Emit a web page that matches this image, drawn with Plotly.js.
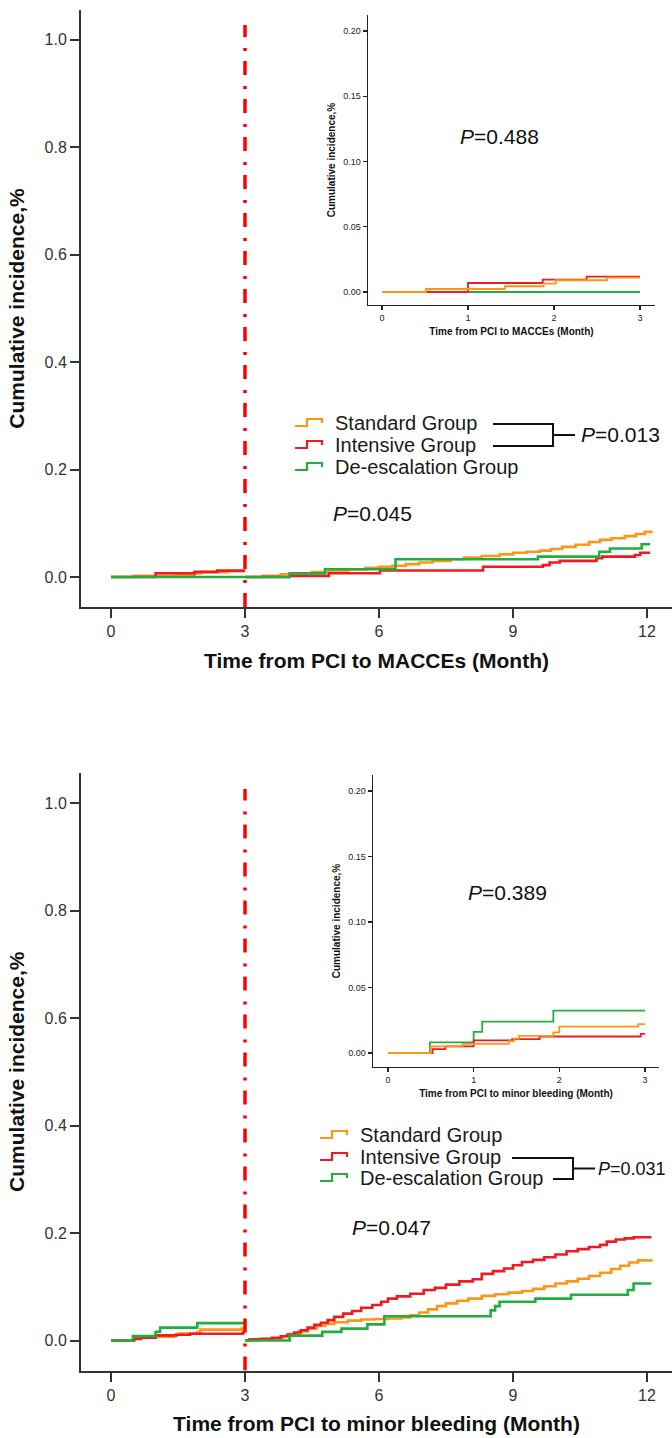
<!DOCTYPE html>
<html><head><meta charset="utf-8">
<script src="https://cdn.plot.ly/plotly-3.0.1.min.js"></script>
<style>html,body{margin:0;padding:0;background:#fff}</style>
</head><body><div id="chart" style="width:672px;height:1438px"></div>
<script>
// ---------- DATA ----------
const groupNames = ['Standard Group', 'Intensive Group', 'De-escalation Group'];
const mainXTicks = [0, 3, 6, 9, 12];
const mainYTicks = [0, 0.2, 0.4, 0.6, 0.8, 1.0];
const insetXTicks = [0, 1, 2, 3];
const insetYTicks = [0, 0.05, 0.10, 0.15, 0.20];
const landmarkMonth = 3;

// Panel A: MACCEs, 0-3 months
const macceStdPreX = [0, 0.51, 1.43, 1.88, 2.02, 2.62, 3.0];
const macceStdPreY = [0, 0.0023, 0.0044, 0.0064, 0.009, 0.011, 0.011];
const macceIntPreX = [0, 1.0, 1.87, 2.38, 3.0];
const macceIntPreY = [0, 0.0069, 0.0095, 0.0118, 0.0118];
const macceDePreX = [0, 3.0];
const macceDePreY = [0, 0];
// Panel A: MACCEs, 3-12 months
const macceStdPostX = [3.0, 3.4, 3.8, 4.1, 4.5, 4.9, 5.3, 5.7, 6.0, 6.3, 6.6, 6.9, 7.2, 7.6, 7.9, 8.3, 8.7, 9.0, 9.3, 9.6, 9.85, 10.1, 10.4, 10.7, 10.95, 11.2, 11.5, 11.75, 11.95, 12.1];
const macceStdPostY = [0, 0.002, 0.005, 0.007, 0.009, 0.012, 0.014, 0.017, 0.019, 0.021, 0.024, 0.027, 0.030, 0.033, 0.036, 0.039, 0.042, 0.045, 0.047, 0.049, 0.052, 0.056, 0.060, 0.065, 0.069, 0.072, 0.076, 0.080, 0.084, 0.086];
const macceIntPostX = [3.0, 4.0, 4.88, 6.02, 8.33, 9.67, 9.82, 10.05, 10.87, 11.0, 11.73, 11.85, 12.07];
const macceIntPostY = [0, 0.002, 0.007, 0.012, 0.019, 0.022, 0.027, 0.030, 0.035, 0.038, 0.041, 0.045, 0.045];
const macceDePostX = [3.0, 4.0, 4.79, 6.37, 9.56, 10.93, 11.17, 11.88, 12.07];
const macceDePostY = [0, 0.0068, 0.0143, 0.033, 0.038, 0.047, 0.053, 0.061, 0.061];

// Panel B: minor bleeding, 0-3 months
const bleedStdPreX = [0, 0.5, 0.87, 1.41, 1.47, 1.53, 1.93, 2.0, 2.92, 3.0];
const bleedStdPreY = [0, 0.005, 0.007, 0.0091, 0.0109, 0.0131, 0.0157, 0.0202, 0.022, 0.022];
const bleedIntPreX = [0, 0.52, 0.67, 1.0, 1.45, 1.77, 2.95, 3.0];
const bleedIntPreY = [0, 0.003, 0.005, 0.0096, 0.0106, 0.0126, 0.0146, 0.0146];
const bleedDePreX = [0, 0.49, 1.0, 1.1, 1.93, 3.0];
const bleedDePreY = [0, 0.0081, 0.0162, 0.024, 0.0323, 0.0323];
// Panel B: minor bleeding, 3-12 months
const bleedStdPostX = [3.0, 3.3, 3.6, 3.85, 4.0, 4.2, 4.4, 4.6, 4.8, 5.0, 5.3, 5.6, 5.9, 6.2, 6.5, 6.7, 6.9, 7.1, 7.3, 7.5, 7.75, 8.0, 8.3, 8.6, 8.9, 9.2, 9.45, 9.7, 9.95, 10.2, 10.45, 10.7, 10.95, 11.2, 11.4, 11.6, 11.8, 12.1];
const bleedStdPostY = [0, 0.002, 0.004, 0.008, 0.012, 0.017, 0.022, 0.027, 0.031, 0.034, 0.037, 0.039, 0.040, 0.041, 0.043, 0.047, 0.052, 0.058, 0.064, 0.069, 0.074, 0.078, 0.083, 0.086, 0.089, 0.092, 0.096, 0.101, 0.106, 0.110, 0.115, 0.120, 0.126, 0.133, 0.139, 0.145, 0.149, 0.151];
const bleedIntPostX = [3.0, 3.1, 3.35, 3.6, 3.8, 3.95, 4.1, 4.25, 4.4, 4.55, 4.7, 4.85, 5.0, 5.2, 5.4, 5.6, 5.85, 6.05, 6.2, 6.4, 6.7, 7.0, 7.25, 7.5, 7.8, 8.1, 8.3, 8.55, 8.8, 9.0, 9.2, 9.45, 9.7, 9.95, 10.2, 10.45, 10.7, 10.95, 11.1, 11.3, 11.5, 11.7, 12.1];
const bleedIntPostY = [0, 0.002, 0.003, 0.005, 0.008, 0.011, 0.015, 0.019, 0.024, 0.029, 0.033, 0.038, 0.044, 0.050, 0.055, 0.061, 0.066, 0.072, 0.078, 0.082, 0.087, 0.094, 0.098, 0.104, 0.110, 0.114, 0.124, 0.129, 0.134, 0.140, 0.146, 0.150, 0.155, 0.160, 0.166, 0.170, 0.174, 0.178, 0.184, 0.188, 0.190, 0.192, 0.192];
const bleedDePostX = [3.0, 4.0, 4.73, 5.16, 5.74, 6.12, 8.5, 8.6, 8.7, 9.5, 10.3, 11.57, 11.7, 12.1];
const bleedDePostY = [0, 0.009, 0.016, 0.022, 0.030, 0.045, 0.056, 0.064, 0.072, 0.078, 0.085, 0.094, 0.106, 0.106];

const pOverall = ['<i>P</i>=0.045', '<i>P</i>=0.047'];
const pInset = ['<i>P</i>=0.488', '<i>P</i>=0.389'];
const pPair = ['<i>P</i>=0.013', '<i>P</i>=0.031'];
const xTitles = ['Time from PCI to MACCEs (Month)', 'Time from PCI to minor bleeding (Month)'];
const yTitle = 'Cumulative incidence,%';

// ---------- STYLE ----------
const COLORS = ['#FF9514', '#F01A22', '#22AE3E'];
const FONT = 'Liberation Sans, Arial, sans-serif';
const W = 672, H = 1438;
const px = v => v / W;
const py = v => 1 - v / H;

const panels = [
  {pre: [[macceStdPreX, macceStdPreY], [macceIntPreX, macceIntPreY], [macceDePreX, macceDePreY]],
   post: [[macceStdPostX, macceStdPostY], [macceIntPostX, macceIntPostY], [macceDePostX, macceDePostY]],
   main: {x: 'x', y: 'y'}, inset: {x: 'x2', y: 'y2'}},
  {pre: [[bleedStdPreX, bleedStdPreY], [bleedIntPreX, bleedIntPreY], [bleedDePreX, bleedDePreY]],
   post: [[bleedStdPostX, bleedStdPostY], [bleedIntPostX, bleedIntPostY], [bleedDePostX, bleedDePostY]],
   main: {x: 'x3', y: 'y3'}, inset: {x: 'x4', y: 'y4'}}
];

const traces = [];
panels.forEach((p, pi) => {
  for (let g = 0; g < 3; g++) {
    const [preX, preY] = p.pre[g];
    const [postX, postY] = p.post[g];
    traces.push({
      type: 'scatter', mode: 'lines', name: groupNames[g], showlegend: false,
      x: preX.concat([null], postX), y: preY.concat([null], postY),
      line: {shape: 'hv', color: COLORS[g], width: 2.6},
      xaxis: p.main.x, yaxis: p.main.y, connectgaps: false, hoverinfo: 'skip'
    });
  }
  for (let g = 2; g >= 0; g--) {
    const [preX, preY] = p.pre[g];
    traces.push({
      type: 'scatter', mode: 'lines', name: groupNames[g], showlegend: false,
      x: preX, y: preY,
      line: {shape: 'hv', color: COLORS[g], width: 1.8},
      xaxis: p.inset.x, yaxis: p.inset.y, hoverinfo: 'skip'
    });
  }
});

function mainX(domainPx, title) {
  return {
    domain: [px(domainPx[0]), px(domainPx[1])], range: [-0.6716, 12.56],
    tickvals: mainXTicks, ticks: 'outside', ticklen: 9, tickwidth: 2, tickcolor: '#333',
    showline: true, linewidth: 2, linecolor: '#333', showgrid: false, zeroline: false,
    tickfont: {family: FONT, size: 16, color: '#333'},
    title: {text: '<b>' + title + '</b>', font: {family: FONT, size: 21, color: '#111'}, standoff: 14},
    fixedrange: true
  };
}
function mainY(top, bottom, zeroPx) {
  const per = 537.5;
  return {
    domain: [py(bottom), py(top)], range: [-(bottom - zeroPx) / per, (zeroPx - top) / per],
    tickvals: mainYTicks, tickformat: '.1f', ticks: 'outside', ticklen: 9, tickwidth: 2, tickcolor: '#333',
    showline: true, linewidth: 2, linecolor: '#333', showgrid: false, zeroline: false,
    tickfont: {family: FONT, size: 16, color: '#333'},
    title: {text: '<b>' + yTitle + '</b>', font: {family: FONT, size: 21, color: '#111'}, standoff: 14},
    fixedrange: true
  };
}
function insetX(left, right, zeroPx, threePx, title) {
  const per = (threePx - zeroPx) / 3;
  return {
    domain: [px(left), px(right)], range: [(left - zeroPx) / per, (right - zeroPx) / per],
    tickvals: insetXTicks, ticks: 'outside', ticklen: 4, tickwidth: 1.2, tickcolor: '#222',
    showline: true, linewidth: 1.3, linecolor: '#222', showgrid: false, zeroline: false,
    tickfont: {family: FONT, size: 9, color: '#222'},
    title: {text: '<b>' + title + '</b>', font: {family: FONT, size: 10, color: '#111'}, standoff: 6},
    fixedrange: true
  };
}
function insetY(top, bottom, zeroPx, p20Px) {
  const per = (zeroPx - p20Px) / 0.2;
  return {
    domain: [py(bottom), py(top)], range: [-(bottom - zeroPx) / per, (zeroPx - top) / per],
    tickvals: insetYTicks, tickformat: '.2f', ticks: 'outside', ticklen: 4, tickwidth: 1.2, tickcolor: '#222',
    showline: true, linewidth: 1.3, linecolor: '#222', showgrid: false, zeroline: false,
    tickfont: {family: FONT, size: 9, color: '#222'},
    title: {text: '<b>' + yTitle + '</b>', font: {family: FONT, size: 10, color: '#111'}, standoff: 6},
    fixedrange: true
  };
}

const layout = {
  width: W, height: H, margin: {l: 0, r: 0, t: 0, b: 0},
  paper_bgcolor: '#fff', plot_bgcolor: 'rgba(0,0,0,0)', showlegend: false,
  xaxis: Object.assign(mainX([81, 672], xTitles[0]), {anchor: 'y'}),
  yaxis: Object.assign(mainY(10, 607, 577), {anchor: 'x'}),
  xaxis2: Object.assign(insetX(368, 655, 382, 640, xTitles[0]), {anchor: 'y2'}),
  yaxis2: Object.assign(insetY(15, 305, 292, 31), {anchor: 'x2'}),
  xaxis3: Object.assign(mainX([81, 672], xTitles[1]), {anchor: 'y3'}),
  yaxis3: Object.assign(mainY(773, 1370.5, 1340.5), {anchor: 'x3'}),
  xaxis4: Object.assign(insetX(373, 659, 388, 645, xTitles[1]), {anchor: 'y4'}),
  yaxis4: Object.assign(insetY(775, 1067, 1053, 791), {anchor: 'x4'}),
  shapes: [], annotations: []
};

// landmark dash-dot lines
[['x', 'y', 1.027], ['x3', 'y3', 1.026]].forEach(([xr, yr, top]) => {
  layout.shapes.push({type: 'line', xref: xr, yref: yr, x0: landmarkMonth, x1: landmarkMonth,
    y0: -0.056, y1: top, line: {color: '#FF0000', width: 3.5, dash: '14px,10px,3px,11px'}, layer: 'above'});
});

// custom legends with step glyphs, brackets, P annotations
const legendSpecs = [
  {glyphX: 295, textX: 333, rows: [423, 445, 467], bracket: {rows: [0, 1], ends: [493, 493], vx: 553, tail: 575}, pX: 579, pSize: 21},
  {glyphX: 320, textX: 358, rows: [1135, 1157, 1178], bracket: {rows: [1, 2], ends: [512, 553], vx: 573, tail: 595}, pX: 596, pSize: 18}
];
legendSpecs.forEach((s, pi) => {
  s.rows.forEach((ry, g) => {
    const x0 = s.glyphX;
    layout.shapes.push({type: 'path', xref: 'paper', yref: 'paper',
      path: `M${px(x0)},${py(ry + 3)} H${px(x0 + 12)} V${py(ry - 4)} H${px(x0 + 27)} V${py(ry)}`,
      line: {color: COLORS[g], width: 2.2}});
    layout.annotations.push({xref: 'paper', yref: 'paper', x: px(s.textX), y: py(ry), xanchor: 'left', yanchor: 'middle',
      text: groupNames[g], showarrow: false, font: {family: FONT, size: 20, color: '#1a1a1a'}});
  });
  const b = s.bracket;
  const ya = s.rows[b.rows[0]] + 1, yb = s.rows[b.rows[1]] + 1, ym = (ya + yb) / 2;
  layout.shapes.push({type: 'path', xref: 'paper', yref: 'paper',
    path: `M${px(b.ends[0])},${py(ya)} H${px(b.vx)} V${py(yb)} H${px(b.ends[1])} M${px(b.vx)},${py(ym)} H${px(b.tail)}`,
    line: {color: '#111', width: 2}});
  layout.annotations.push({xref: 'paper', yref: 'paper', x: px(s.pX), y: py(ym), xanchor: 'left', yanchor: 'middle',
    text: pPair[pi], showarrow: false, font: {family: FONT, size: s.pSize, color: '#111'}});
});

// overall and inset P values
[[372, 513], [391, 1227]].forEach(([x, y], i) => layout.annotations.push({xref: 'paper', yref: 'paper', x: px(x), y: py(y),
  xanchor: 'center', yanchor: 'middle', text: pOverall[i], showarrow: false, font: {family: FONT, size: 21, color: '#111'}}));
[[499, 137], [507, 892]].forEach(([x, y], i) => layout.annotations.push({xref: 'paper', yref: 'paper', x: px(x), y: py(y),
  xanchor: 'center', yanchor: 'middle', text: pInset[i], showarrow: false, font: {family: FONT, size: 21, color: '#111'}}));

Plotly.newPlot('chart', traces, layout, {displayModeBar: false, staticPlot: true});
</script></body></html>
